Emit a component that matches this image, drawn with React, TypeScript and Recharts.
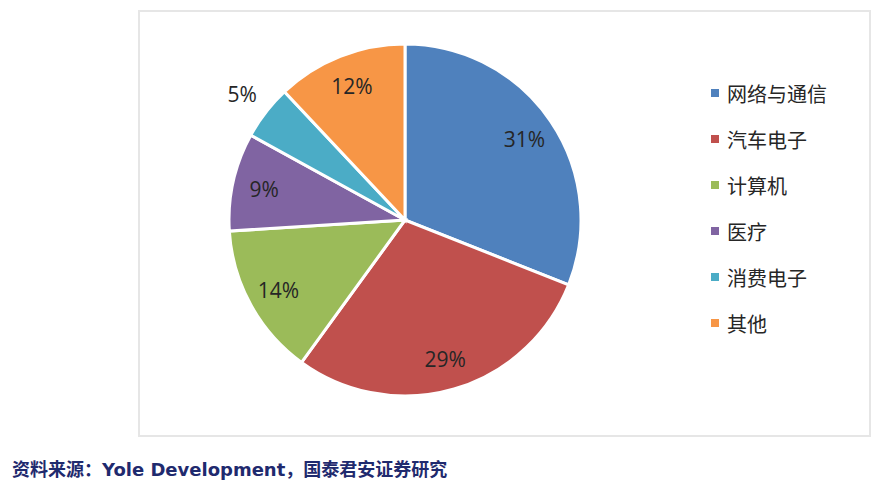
import React from "react";
import { PieChart, Pie, Cell, Legend } from "recharts";

const categories = ["网络与通信", "汽车电子", "计算机", "医疗", "消费电子", "其他"];
const shares = [31, 29, 14, 9, 5, 12];
const colors = ["#4F81BD", "#C0504D", "#9BBB59", "#8064A2", "#4BACC6", "#F79646"];
const sourceNote = "资料来源：Yole Development，国泰君安证券研究";

const data = categories.map((name, i) => ({ name, value: shares[i] }));

const RAD = Math.PI / 180;

const renderLabel = (props: any) => {
  const { cx, cy, midAngle, outerRadius, value } = props;
  const r = value < 6 ? outerRadius * 1.17 : outerRadius * 0.82;
  const x = cx + r * Math.cos(-midAngle * RAD);
  const y = cy + r * Math.sin(-midAngle * RAD);
  return (
    <text
      x={x}
      y={y}
      textAnchor="middle"
      dominantBaseline="central"
      fill="#262626"
      fontSize={21}
      fontFamily="'Open Sans', 'Noto Sans', sans-serif"
    >
      {`${value}%`}
    </text>
  );
};

const renderLegend = () => {
  return (
    <div>
      {categories.map((name, i) => (
        <div
          key={name}
          style={{
            display: "flex",
            alignItems: "center",
            height: 46,
            fontSize: 20,
            color: "#262626",
            fontFamily: "'Noto Sans CJK SC', sans-serif",
          }}
        >
          <span
            style={{
              display: "inline-block",
              width: 8,
              height: 8,
              background: colors[i],
              marginRight: 8,
            }}
          />
          <span>{name}</span>
        </div>
      ))}
    </div>
  );
};

export default function App() {
  return (
    <div
      style={{
        position: "absolute",
        left: 0,
        top: 0,
        width: 893,
        height: 493,
        background: "#fff",
      }}
    >
      <div
        style={{
          position: "absolute",
          left: 138,
          top: 10,
          width: 733,
          height: 427,
          border: "2px solid #e6e6e6",
          boxSizing: "border-box",
        }}
      >
        <PieChart width={729} height={423} margin={{ top: 0, right: 0, bottom: 0, left: 0 }}>
          <Pie
            data={data}
            dataKey="value"
            nameKey="name"
            cx={265}
            cy={208}
            outerRadius={176}
            startAngle={90}
            endAngle={-270}
            stroke="#ffffff"
            strokeWidth={3}
            label={renderLabel}
            labelLine={false}
            isAnimationActive={false}
          >
            {data.map((d, i) => (
              <Cell key={d.name} fill={colors[i]} />
            ))}
          </Pie>
          <Legend
            layout="vertical"
            align="right"
            verticalAlign="top"
            content={renderLegend}
            wrapperStyle={{ position: "absolute", left: 571, top: 58, width: 150 }}
          />
        </PieChart>
      </div>
      <div
        style={{
          position: "absolute",
          left: 12,
          top: 455,
          fontSize: 18,
          fontWeight: "bold",
          color: "#1F2A6E",
          fontFamily: "'DejaVu Sans', 'Noto Sans CJK SC', sans-serif",
          whiteSpace: "nowrap",
        }}
      >
        {sourceNote}
      </div>
    </div>
  );
}
